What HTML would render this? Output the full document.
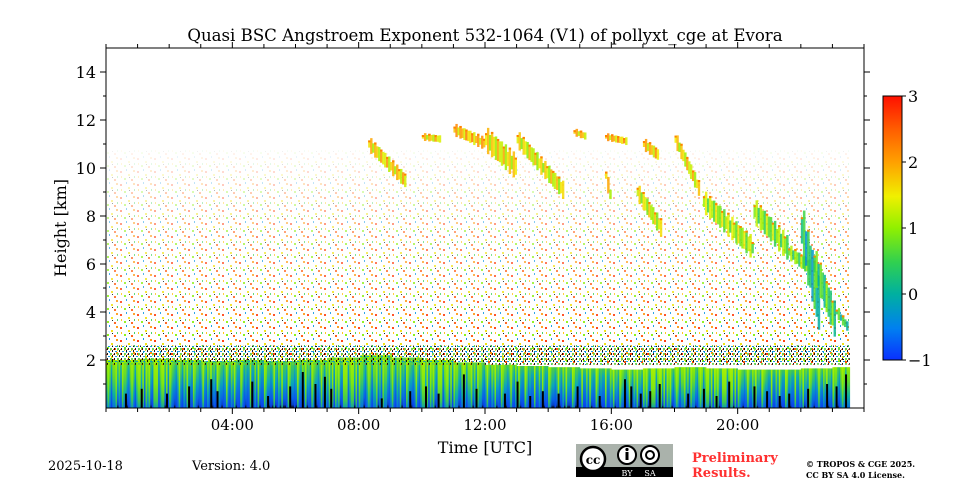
<!DOCTYPE html>
<html><head><meta charset="utf-8">
<style>
html,body{margin:0;padding:0;background:#fff;}
body{width:960px;height:480px;overflow:hidden;position:relative;font-family:"DejaVu Serif","Liberation Serif",serif;}
svg text{font-family:"DejaVu Serif","Liberation Serif",serif;}
</style></head>
<body>
<svg id="chart" width="960" height="480" viewBox="0 0 960 480" xmlns="http://www.w3.org/2000/svg">
<defs>
  <linearGradient id="cbar" x1="0" y1="1" x2="0" y2="0">
    <stop offset="0" stop-color="#0a30ff"/><stop offset="0.12" stop-color="#0080f0"/>
    <stop offset="0.25" stop-color="#00b0a0"/><stop offset="0.37" stop-color="#30d050"/>
    <stop offset="0.5" stop-color="#90f000"/><stop offset="0.62" stop-color="#f0f000"/>
    <stop offset="0.75" stop-color="#ffa000"/><stop offset="0.87" stop-color="#ff6000"/>
    <stop offset="1" stop-color="#ff1000"/>
  </linearGradient>
  <linearGradient id="col0" x1="0" y1="0" x2="0" y2="1">
    <stop offset="0" stop-color="#70e020"/><stop offset="0.25" stop-color="#40c860"/>
    <stop offset="0.55" stop-color="#0898c8"/><stop offset="1" stop-color="#0850e8"/>
  </linearGradient>
  <linearGradient id="col1" x1="0" y1="0" x2="0" y2="1">
    <stop offset="0" stop-color="#a8f000"/><stop offset="0.5" stop-color="#80e810"/>
    <stop offset="0.85" stop-color="#40c850"/><stop offset="1" stop-color="#10a0a8"/>
  </linearGradient>
  <linearGradient id="col2" x1="0" y1="0" x2="0" y2="1">
    <stop offset="0" stop-color="#40c850"/><stop offset="0.2" stop-color="#10a8b0"/>
    <stop offset="0.6" stop-color="#0870e0"/><stop offset="1" stop-color="#0840f0"/>
  </linearGradient>
  <linearGradient id="col3" x1="0" y1="0" x2="0" y2="1">
    <stop offset="0" stop-color="#90ec00"/><stop offset="0.35" stop-color="#60d830"/>
    <stop offset="0.7" stop-color="#10b0a0"/><stop offset="1" stop-color="#0870e0"/>
  </linearGradient>
  <linearGradient id="col4" x1="0" y1="0" x2="0" y2="1">
    <stop offset="0" stop-color="#50d040"/><stop offset="0.45" stop-color="#0aa8b8"/>
    <stop offset="0.8" stop-color="#0860e8"/><stop offset="0.93" stop-color="#0840c0"/><stop offset="1" stop-color="#000"/>
  </linearGradient>
  <pattern id="speck" width="17" height="13" patternUnits="userSpaceOnUse">
    <rect x="1" y="2" width="2" height="2" fill="#ff3000"/><rect x="9" y="5" width="2" height="2" fill="#f0e000"/>
    <rect x="14" y="1" width="2" height="2" fill="#ff9000"/><rect x="5" y="9" width="2" height="2" fill="#80f000"/>
    <rect x="12" y="10" width="2" height="2" fill="#ff5000"/><rect x="15" y="7" width="1" height="2" fill="#30d050"/>
    <rect x="2" y="7" width="1" height="2" fill="#ffc000"/><rect x="7" y="0" width="1" height="2" fill="#0090e0"/>
    <rect x="10" y="8" width="1" height="1" fill="#000"/>
  </pattern>
  <pattern id="speckDense" width="7" height="5" patternUnits="userSpaceOnUse">
    <rect x="0" y="0" width="1" height="2" fill="#000"/><rect x="3" y="1" width="2" height="1" fill="#0090e0"/>
    <rect x="5" y="3" width="2" height="2" fill="#60d040"/><rect x="2" y="3" width="1" height="2" fill="#000"/>
    <rect x="5" y="0" width="1" height="1" fill="#f0e000"/><rect x="1" y="4" width="1" height="1" fill="#ff5000"/>
  </pattern>
  <linearGradient id="fadeG" x1="0" y1="0" x2="0" y2="1">
    <stop offset="0" stop-color="#fff" stop-opacity="0.05"/><stop offset="0.4" stop-color="#fff" stop-opacity="0.55"/>
    <stop offset="1" stop-color="#fff" stop-opacity="1"/>
  </linearGradient>
  <mask id="fadeMask"><rect x="106" y="150" width="758" height="215" fill="url(#fadeG)"/></mask>
  <clipPath id="plotClip"><rect x="106" y="48" width="758" height="360"/></clipPath>
</defs>
<text x="485" y="41" text-anchor="middle" font-size="16.6">Quasi BSC Angstroem Exponent 532-1064 (V1) of pollyxt_cge at Evora</text>
<g id="plot" clip-path="url(#plotClip)">
  <rect x="106" y="150" width="745" height="215" fill="url(#speck)" mask="url(#fadeMask)"/>
  <g id="lower"></g>
  <g id="clouds"></g>
</g>
<rect x="106" y="48" width="758" height="360" fill="none" stroke="#000" stroke-width="1"/>
<g id="axes"></g>
<text x="0" y="0" transform="translate(66,228) rotate(-90)" text-anchor="middle" font-size="16">Height [km]</text>
<text x="485" y="453" text-anchor="middle" font-size="16">Time [UTC]</text>
<rect x="883" y="96" width="19" height="264" fill="url(#cbar)" stroke="#000" stroke-width="1"/>
<g id="cbaxis"></g>
<text x="48" y="470" font-size="13">2025-10-18</text>
<text x="192" y="470" font-size="13">Version: 4.0</text>
<g>
  <rect x="576" y="444" width="97" height="33" fill="#aab2ab"/>
  <rect x="576" y="467" width="97" height="10" fill="#000"/>
  <circle cx="593" cy="459" r="12" fill="#fff" stroke="#000" stroke-width="2.5"/>
  <text x="593" y="464" text-anchor="middle" font-size="12" font-weight="bold" font-family="Liberation Sans,sans-serif">cc</text>
  <circle cx="627" cy="455" r="9" fill="#fff" stroke="#000" stroke-width="2"/>
  <rect x="625.5" y="452" width="3" height="8" fill="#000"/><circle cx="627" cy="449.5" r="1.6" fill="#000"/>
  <circle cx="650" cy="455" r="9" fill="#fff" stroke="#000" stroke-width="2"/>
  <circle cx="650" cy="455" r="4" fill="none" stroke="#000" stroke-width="2"/>
  <text x="627" y="476" text-anchor="middle" font-size="8" fill="#fff" font-family="Liberation Sans,sans-serif">BY</text>
  <text x="650" y="476" text-anchor="middle" font-size="8" fill="#fff" font-family="Liberation Sans,sans-serif">SA</text>
</g>
<text x="692" y="462" font-size="13" font-weight="bold" fill="#ff3030">Preliminary</text>
<text x="692" y="477" font-size="13" font-weight="bold" fill="#ff3030">Results.</text>
<text x="806" y="467" font-size="8" font-weight="bold">© TROPOS &amp; CGE 2025.</text>
<text x="806" y="478" font-size="8" font-weight="bold">CC BY SA 4.0 License.</text>
</svg>
<script>
// ---- data ----
const xTickLabels = ["04:00","08:00","12:00","16:00","20:00"];
const xTickHours = [4,8,12,16,20];
const yTicks = [2,4,6,8,10,12,14];
const cbTicks = [-1,0,1,2,3];
// boundary layer top height (km), hourly 0..23
const layerTop = [2.2,2.25,2.2,2.15,2.2,2.15,2.2,2.3,2.4,2.3,2.2,2.1,2.0,1.95,1.9,1.85,1.8,1.85,1.9,1.85,1.8,1.8,1.85,1.9];
// dominant tone per hour (gradient index 0-4)
const layerTone = [3,1,0,0,2,4,0,1,3,0,1,3,0,2,4,2,0,1,3,1,0,2,0,3];
// column tone offsets, repeating across columns
const colPattern = [0,1,0,2,3,0,1,4,0,2,1,3,0,4,2];
// black (no-signal) streak times (h) and heights (km)
const gapT = [0.6,1.1,1.9,2.6,3.3,3.5,4.6,5.1,5.8,6.2,6.6,6.9,7.1,8.7,9.6,10.1,10.5,11.3,11.7,12.6,13.0,13.4,13.8,14.3,14.9,15.6,16.4,16.6,16.9,17.2,17.5,18.4,18.9,19.3,19.7,20.5,20.9,21.3,21.6,22.2,22.8,23.1,23.4];
const gapH = [0.6,0.8,0.6,0.9,1.2,0.7,1.1,0.5,0.9,1.5,1.0,1.3,0.8,0.4,0.7,0.9,0.6,1.4,0.8,0.6,1.1,0.5,0.7,0.6,0.9,0.5,1.2,0.9,0.6,0.7,1.0,0.6,0.8,0.5,1.1,0.9,0.7,0.5,0.6,0.8,1.0,0.9,1.4];
// cloud blobs: start/end time (h), start/end height (km), thickness (km), value
const cloudT0 = [8.3,10.0,11.0,12.0,13.0,14.8,15.8,15.8,16.8,17.0,18.0,18.9,20.5,21.6,22.0,22.4,23.1];
const cloudT1 = [9.5,10.6,12.0,13.0,14.5,15.2,16.5,16.0,17.6,17.5,18.8,20.5,21.6,22.3,22.6,23.1,23.5];
const cloudH0 = [11.0,11.3,11.6,11.2,11.2,11.5,11.3,9.7,9.0,11.0,11.2,8.6,8.2,6.5,7.4,6.0,4.0];
const cloudH1 = [9.4,11.2,11.0,10.0,9.0,11.3,11.1,8.5,7.4,10.5,9.0,6.6,6.6,5.8,4.0,3.5,3.3];
const cloudThick = [0.6,0.3,0.5,1.0,0.7,0.3,0.3,0.6,0.7,0.5,0.6,0.9,1.0,0.6,2.2,1.4,0.4];
const cloudV = [1.6,1.6,1.8,1.5,1.4,1.7,1.8,1.6,1.3,1.7,1.5,1.1,0.9,0.8,0.2,0.5,0.4];

// ---- scales ----
const X0=106, X1=864, Y0=408, KM=24;
const xs = t => X0 + t*(X1-X0)/24;
const ys = h => Y0 - h*KM;
const cbY = v => 360 - (v+1)*66;
const NS="http://www.w3.org/2000/svg";
function mk(tag, attrs, parent){const e=document.createElementNS(NS,tag);for(const k in attrs)e.setAttribute(k,attrs[k]);parent.appendChild(e);return e;}
const stops=[[-1,[10,48,255]],[-0.5,[0,128,240]],[0,[0,176,160]],[0.5,[48,208,80]],[1,[144,240,0]],[1.5,[240,240,0]],[2,[255,160,0]],[3,[255,16,0]]];
function cmap(v){v=Math.max(-1,Math.min(3,v));for(let i=1;i<stops.length;i++){if(v<=stops[i][0]){const a=stops[i-1],b=stops[i],f=(v-a[0])/(b[0]-a[0]);return "rgb("+a[1].map((c,j)=>Math.round(c+(b[1][j]-c)*f)).join(",")+")";}}return "rgb(255,16,0)";}

// ---- lower layer ----
const lower=document.getElementById('lower');
const endT=23.55, step=0.05;
let k=0;
for(let t=0;t<endT;t+=step,k++){
  const hr=Math.min(23,Math.floor(t));
  const top=layerTop[hr]-0.2;
  const p=colPattern[k%colPattern.length];
  const tone=(p===0)?layerTone[hr]:p;
  const r=mk('rect',{x:xs(t),y:ys(top),width:xs(t+step)-xs(t)+0.3,height:top*KM,fill:"url(#col"+tone+")"},lower);
  
  
}
const band=mk('rect',{x:X0,y:ys(2.6),width:xs(endT)-X0,height:0.8*KM,fill:"url(#speckDense)",opacity:0.9},lower);


gapT.forEach((t,i)=>{
  const g=mk('rect',{x:xs(t),y:ys(gapH[i]),width:2,height:gapH[i]*KM,fill:"#000"},lower);
  
  
});

// ---- clouds ----
const clouds=document.getElementById('clouds');
cloudT0.forEach((t0,i)=>{
  const t1=cloudT1[i], n=Math.max(2,Math.round((xs(t1)-xs(t0))/2));
  const g=mk('g',{},clouds);
  
  
  for(let j=0;j<n;j++){
    const f=j/n, t=t0+(t1-t0)*f, h=cloudH0[i]+(cloudH1[i]-cloudH0[i])*f;
    const th=cloudThick[i]*(0.5+0.6*Math.abs(Math.sin(j*1.7)));
    const w=(xs(t1)-xs(t0))/n+0.4;
    mk('rect',{x:xs(t),y:ys(h+th/2),width:w,height:th*KM,fill:cmap(cloudV[i]+0.5*Math.sin(j*2.3)),opacity:0.85},g);
    if(j%3===0) mk('rect',{x:xs(t),y:ys(h+th/2),width:w,height:2,fill:cmap(2.2)},g);
  }
});

// ---- axes ----
const ax=document.getElementById('axes');
for(let h=0;h<=24;h++){
  const x=xs(h), major=h%4===0&&h>0&&h<24;
  const L=major?6:4;
  mk('line',{x1:x,y1:Y0,x2:x,y2:Y0+L,stroke:"#000"},ax);
  mk('line',{x1:x,y1:48,x2:x,y2:48-L,stroke:"#000"},ax);
}
xTickHours.forEach((h,i)=>{
  const t=mk('text',{x:xs(h),y:430,"text-anchor":"middle","font-size":"15"},ax);
  t.textContent=xTickLabels[i];
  
  
});
for(let h=1;h<=14.5;h+=1){
  const y=ys(h), major=h%2===0, L=major?6:3;
  mk('line',{x1:X0,y1:y,x2:X0-L,y2:y,stroke:"#000"},ax);
  mk('line',{x1:X1,y1:y,x2:X1+L,y2:y,stroke:"#000"},ax);
}
yTicks.forEach(h=>{
  const t=mk('text',{x:96,y:ys(h)+6,"text-anchor":"end","font-size":"16"},ax);
  t.textContent=h;
  
  
});
const cba=document.getElementById('cbaxis');
cbTicks.forEach(v=>{
  mk('line',{x1:902,y1:cbY(v),x2:906,y2:cbY(v),stroke:"#000"},cba);
  const t=mk('text',{x:908,y:cbY(v)+6,"font-size":"16"},cba);
  t.textContent=v<0?"\u2212"+Math.abs(v):String(v);
  
  
});
</script>
</body></html>
